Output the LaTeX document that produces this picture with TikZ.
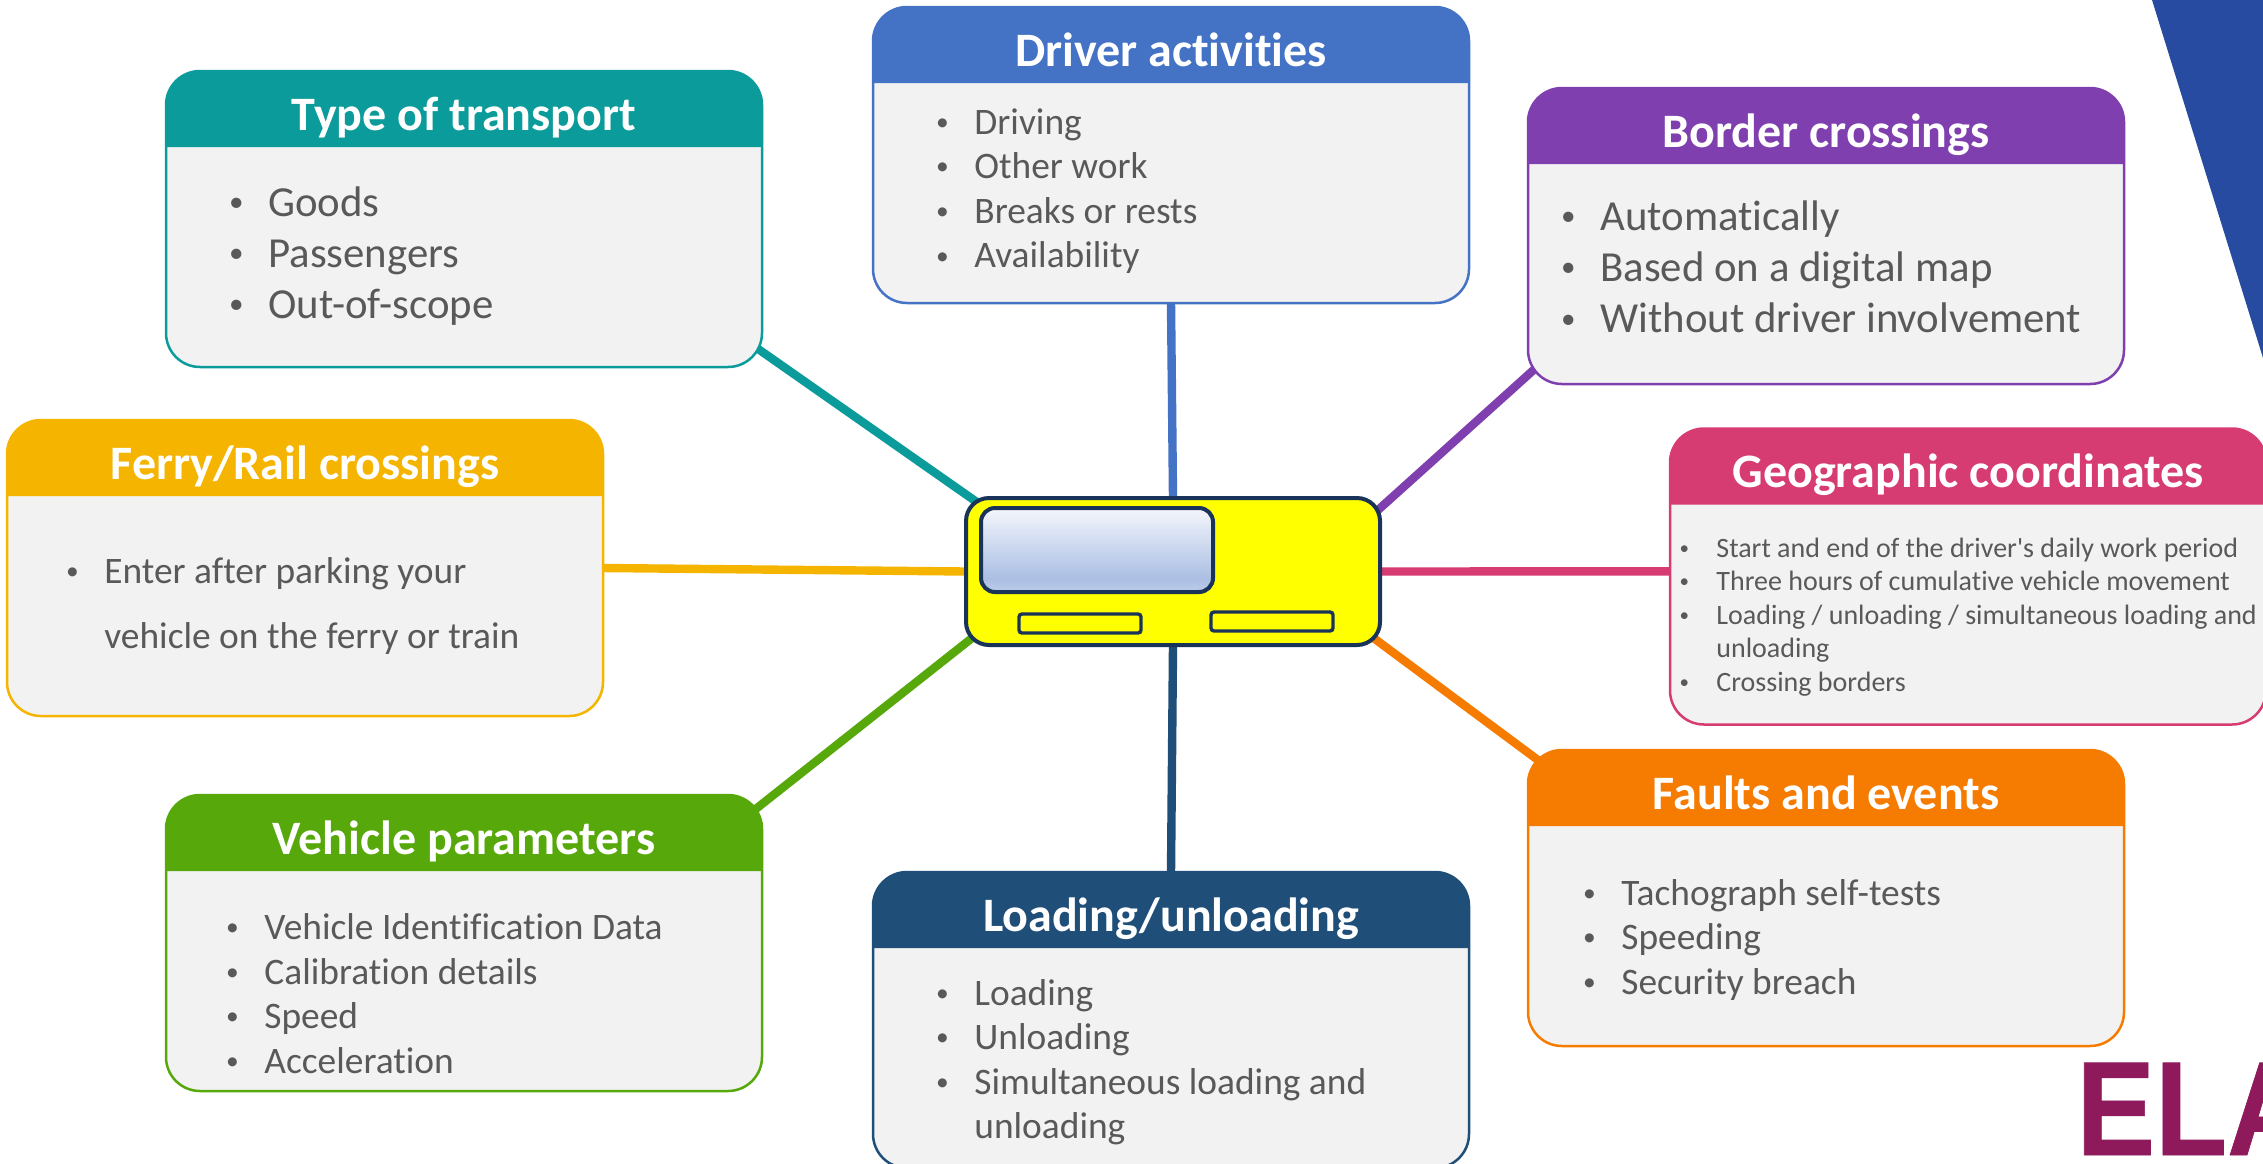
\documentclass[tikz,border=0pt]{standalone}
\usepackage{fontspec}
\setmainfont{Carlito}[Ligatures=NoCommon]
\newfontfamily\aposfont{Carlito}
\newfontfamily\logofont{Liberation Sans Bold}[FakeBold=0.6]
\usetikzlibrary{calc}
\pgfdeclarelayer{background}
\pgfsetlayers{background,main}
\definecolor{cteal}{HTML}{0B9B9B}
\definecolor{cblue}{HTML}{4472C4}
\definecolor{cpurple}{HTML}{7F3FAF}
\definecolor{cpink}{HTML}{D63B72}
\definecolor{corange}{HTML}{F57C00}
\definecolor{cnavy}{HTML}{1F4E79}
\definecolor{cgreen}{HTML}{57A80A}
\definecolor{cyellow}{HTML}{F4B400}
\definecolor{cbody}{HTML}{F2F2F2}
\definecolor{ctext}{HTML}{595959}
\definecolor{cdev}{HTML}{1A3358}
\definecolor{cdevfill}{RGB}{255,255,0}
\definecolor{ctri}{HTML}{264BA0}
\definecolor{cela}{HTML}{8E1A5C}
\definecolor{cglassT}{HTML}{F4F6FC}
\definecolor{cglassB}{HTML}{ABBFE3}
\definecolor{cglassE}{HTML}{BCCCE9}
\pgfdeclareverticalshading{glassshade}{100bp}{color(0bp)=(cglassE); color(25bp)=(cglassE); color(33bp)=(cglassB); color(75bp)=(cglassT); color(100bp)=(cglassT)}
\tikzset{
  cardbody/.style={rectangle,minimum width=298pt,minimum height=148pt,inner sep=0pt,outer sep=0pt,
    rounded corners=17pt,fill=cbody,draw=#1,line width=1.25pt},
  cardtitle/.style={anchor=base,inner sep=0pt,text=white,font=\fontsize{24}{28}\selectfont\bfseries},
  cardlist/.style={anchor=base west,inner sep=0pt,text=ctext},
  link/.style={line width=4.2pt,draw=#1,shorten >=-9pt,shorten <=-9pt},
  devbody/.style={rectangle,minimum width=207pt,minimum height=73.5pt,inner sep=0pt,outer sep=0pt,
    rounded corners=11.5pt,fill=cdevfill,draw=cdev,line width=2pt},
  devglass/.style={rectangle,minimum width=116pt,minimum height=42pt,inner sep=0pt,outer sep=0pt,
    rounded corners=7pt,shading=glassshade,draw=cdev,line width=2pt},
  devslot/.style={rectangle,minimum width=61pt,minimum height=9.5pt,inner sep=0pt,outer sep=0pt,
    rounded corners=1.5pt,fill=cdevfill,draw=cdev,line width=1.7pt}
}
\newcommand\card[5]{%
  \node[cardbody=#4] (#1) at (#2,#3) {};
  \fill[#4,rounded corners=17pt] ($(#1.north west)+(0,76)$) [sharp corners] -- ($(#1.north west)+(0,76)$)
     [rounded corners=17pt] -- (#1.north west) -- (#1.north east)
     [sharp corners] -- ($(#1.north east)+(0,76)$) -- cycle;
  \node[cardtitle] (#1-title) at ($(#1.north)+(0,59)$) {#5};
}
\newcommand\bu{\makebox[16pt][l]{\makebox[0pt][c]{\raisebox{.1em}{\scalebox{.68}{•}}}}}
\newcommand\cont{\hspace*{16pt}}
\newcommand\blist[3]{\parbox[t]{290pt}{\fontsize{#1}{#2}\selectfont\raggedright #3}}
\begin{document}
\begin{tikzpicture}[x=0.5pt,y=-0.5pt]
\useasboundingbox (0,0) rectangle (2263,1163);
% decorative corner shapes
\fill[ctri] (2152,0) -- (2263,0) -- (2263,358) -- cycle;
\node[anchor=base west,inner sep=0pt,text=cela] (logo) at (2076,1155)
  {\logofont\fontsize{67}{70}\selectfont\scalebox{.88}[1]{ELA}};
% cards
\card{tt}{464}{219}{cteal}{Type of transport}
\card{drv}{1171}{155}{cblue}{Driver activities}
\card{bor}{1826}{236}{cpurple}{Border crossings}
\card{geo}{1968}{576.5}{cpink}{Geographic coordinates}
\card{flt}{1826}{898}{corange}{Faults and events}
\card{lod}{1171}{1020}{cnavy}{Loading/unloading}
\card{veh}{464}{943}{cgreen}{Vehicle parameters}
\card{fer}{305}{568}{cyellow}{Ferry/Rail crossings}
% lists
\node[cardlist] (tt-list) at (236,216) {\blist{21.4}{25.5}{\bu Goods\\\bu Passengers\\\bu Out-of-scope}};
\node[cardlist] (drv-list) at (942,134) {\blist{18.7}{22.3}{\bu Driving\\\bu Other work\\\bu Breaks or rests\\\bu Availability}};
\node[cardlist] (bor-list) at (1568,230) {\blist{21.4}{25.6}{\bu Automatically\\\bu Based on a digital map\\\bu Without driver involvement}};
\node[cardlist] (geo-list) at (1684,557) {\blist{14}{16.75}{\bu Start and end of the driver{\aposfont '}s daily work period\\\bu Three hours of cumulative vehicle movement\\\bu Loading / unloading / simultaneous loading and\\\cont unloading\\\bu Crossing borders}};
\node[cardlist] (flt-list) at (1589,905) {\blist{18.7}{22.3}{\bu Tachograph self-tests\\\bu Speeding\\\bu Security breach}};
\node[cardlist] (lod-list) at (942,1005) {\blist{18.7}{22.3}{\bu Loading\\\bu Unloading\\\bu Simultaneous loading and\\\cont unloading}};
\node[cardlist] (veh-list) at (232,939.5) {\blist{18.7}{22.3}{\bu Vehicle Identification Data\\\bu Calibration details\\\bu Speed\\\bu Acceleration}};
\node[cardlist] (fer-list) at (72,583) {\blist{18.7}{32.5}{\bu Enter after parking your\\\cont vehicle on the ferry or train}};
% central device
\node[devbody] (dev) at (1173,571.5) {};
\node[devglass] (glass) at (1097,550) {};
\node[devslot] (slotl) at (1080,623.5) {};
\node[devslot] (slotr) at (1272,621.5) {};
% connectors
\begin{pgfonlayer}{background}
\draw[link=cteal] (dev.160.6) -- (tt.-24.5);
\draw[link=cblue] (dev.north) -- (drv.south);
\draw[link=cpurple] (dev.17.7) -- (bor.205.2);
\draw[link=cpink] (dev.east) -- (geo.179.5);
\draw[link=corange] (dev.-19.3) -- (flt.154);
\draw[link=cnavy] (dev.south) -- (lod.north);
\draw[link=cgreen] (dev.199.8) -- (veh.25.2);
\draw[link=cyellow] (dev.west) -- (fer.east);
\end{pgfonlayer}
\end{tikzpicture}
\end{document}
